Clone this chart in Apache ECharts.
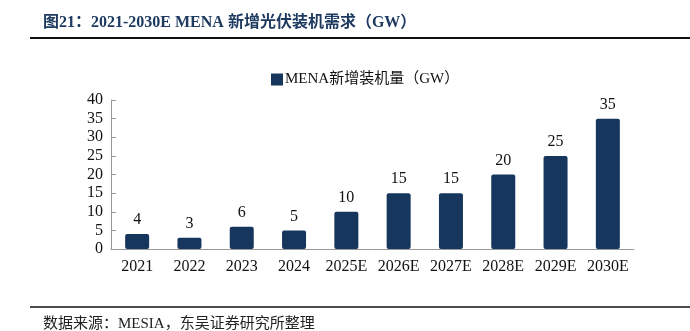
<!DOCTYPE html>
<html><head><meta charset="utf-8">
<script src="https://cdn.jsdelivr.net/npm/echarts@6/dist/echarts.min.js"></script>
<style>html,body{margin:0;padding:0;background:#fff}#c{width:690px;height:331px}</style>
</head><body><div id="c"></div>
<script>
const categories = ['2021','2022','2023','2024','2025E','2026E','2027E','2028E','2029E','2030E'];
const values = [4,3,6,5,10,15,15,20,25,35];
const yTicks = [0,5,10,15,20,25,30,35,40];
const seriesName = 'MENA新增装机量（GW）';
const titleText = '图21：2021-2030E MENA 新增光伏装机需求（GW）';
const sourceText = '数据来源：MESIA，东吴证券研究所整理';

const serif = '"Liberation Serif","Times New Roman","Noto Sans CJK SC",serif';
const chart = echarts.init(document.getElementById('c'));
chart.setOption({
  animation:false,
  backgroundColor:'#fff',
  title:[
    {text:titleText,left:38,top:10,textStyle:{fontFamily:serif,fontSize:16,fontWeight:'bold',color:'#1f3a60'}},
    {text:sourceText,left:38,top:312,textStyle:{fontFamily:serif,fontSize:15,fontWeight:'normal',color:'#222'}}
  ],
  graphic:[
    {type:'line',shape:{x1:30,y1:38,x2:690,y2:38},style:{stroke:'#111',lineWidth:2}},
    {type:'line',shape:{x1:30,y1:307,x2:690,y2:307},style:{stroke:'#111',lineWidth:1.5}}
  ],
  legend:{top:67,left:266,itemWidth:12,itemHeight:12,icon:'rect',itemGap:4,
    textStyle:{fontFamily:serif,fontSize:15,color:'#111',padding:[0,0,0,-3]},data:[seriesName]},
  grid:{left:111,right:56,top:100,bottom:82},
  xAxis:{type:'category',data:categories,
    axisLine:{lineStyle:{color:'#999'}},
    axisTick:{inside:true,length:5,lineStyle:{color:'#999'}},
    axisLabel:{interval:0,hideOverlap:false,fontFamily:serif,fontSize:16,color:'#111',margin:10}},
  yAxis:{type:'value',min:yTicks[0],max:yTicks[yTicks.length-1],interval:5,
    splitLine:{show:false},
    axisLine:{show:true,lineStyle:{color:'#999'}},
    axisTick:{show:true,inside:true,length:5,lineStyle:{color:'#999'}},
    axisLabel:{fontFamily:serif,fontSize:16,color:'#111',margin:8}},
  series:[{name:seriesName,type:'bar',data:values,barWidth:24,
    itemStyle:{color:'#17365d',borderRadius:2},
    label:{show:true,position:'top',distance:6,fontFamily:serif,fontSize:16,color:'#111'}}]
});
</script></body></html>
